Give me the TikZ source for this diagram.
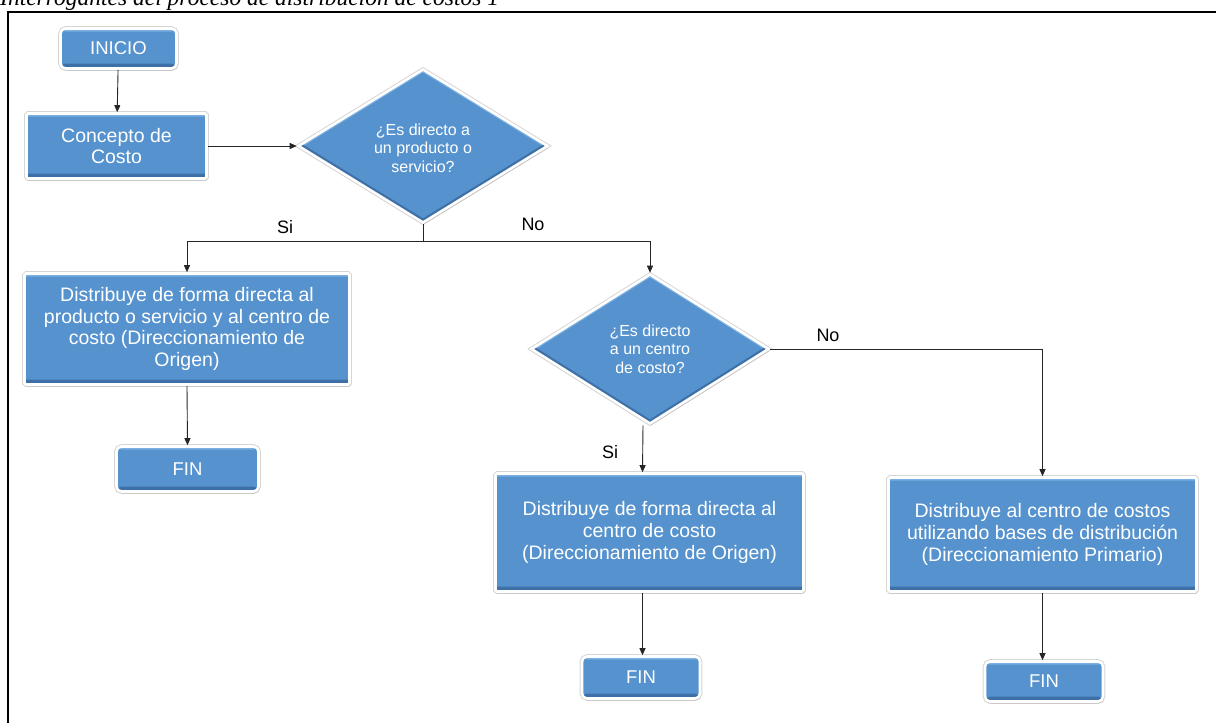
\documentclass[tikz,border=0pt]{standalone}
\usepackage{fontspec}
\setmainfont{Liberation Sans}
\newfontfamily\captionfont{Liberation Serif}
\usetikzlibrary{shapes.geometric,arrows.meta,shadows,calc}

\definecolor{boxblue}{RGB}{86,147,206}
\definecolor{boxdark}{RGB}{62,112,168}
\definecolor{boxlight}{RGB}{122,176,226}

\tikzset{
  x=1pt, y=-1pt,
  shapebase/.style={fill=boxblue, draw=white, line width=2.6pt,
    preaction={draw=black!16, line width=4.6pt},
    drop shadow={shadow xshift=1pt, shadow yshift=-2pt, opacity=0.22},
    text=white, align=center, inner sep=0pt},
  procbox/.style={shapebase, rectangle, rounded corners=1.5pt,
    path picture={
      \fill[boxdark] (path picture bounding box.south west) rectangle
        ([yshift=5pt]path picture bounding box.south east);
      \fill[boxlight] (path picture bounding box.north west) rectangle
        ([yshift=-3pt]path picture bounding box.north east);
    },
    font=\fontsize{19.5}{21.8}\selectfont},
  termbox/.style={procbox, rounded corners=5pt, font=\fontsize{18.5}{20}\selectfont},
  decision/.style={shapebase, diamond,
    path picture={
      \draw[boxlight, line width=5pt] (path picture bounding box.west) --
        (path picture bounding box.north) -- (path picture bounding box.east);
      \draw[boxdark, line width=7pt] (path picture bounding box.west) --
        (path picture bounding box.south) -- (path picture bounding box.east);
    }},
  decisiontext/.style={text=white, align=center, inner sep=0pt,
    font=\fontsize{16}{18.5}\selectfont},
  answer/.style={text=black, inner sep=0pt, font=\fontsize{18}{20}\selectfont},
  conn/.style={draw=black!85, line width=0.9pt},
  arr/.style={conn, -{Triangle[length=7pt,width=6pt]}},
}

\begin{document}
\begin{tikzpicture}
\useasboundingbox (0,0) rectangle (1216,723);
\clip (0,0) rectangle (1216,723);

% caption line and frame
\node[anchor=base west, inner sep=0pt,
      font=\captionfont\itshape\fontsize{23.5}{26}\selectfont] (caption) at (0,5)
  {Interrogantes del proceso de distribución de costos 1};
\draw[line width=2pt] (1240,12) -- (8,12) -- (8,760);

% start and first step
\node[termbox, minimum width=116, minimum height=40] (inicio) at (118.5,48.5) {INICIO};
\node[procbox, minimum width=180, minimum height=65] (concepto) at (116.5,146)
  {Concepto de\\Costo};

% first decision
\node[decision, minimum width=250, minimum height=154] (d1) at (423,146) {};
\node[decisiontext] (d1t) at (423,148) {¿Es directo a\\un producto o\\servicio?};

% left branch
\node[procbox, minimum width=325, minimum height=111] (b2) at (187,329)
  {Distribuye de forma directa al\\producto o servicio y al centro de\\costo (Direccionamiento de\\Origen)};
\node[termbox, minimum width=142, minimum height=45] (f1) at (187.5,469) {FIN};

% second decision
\node[decision, minimum width=238, minimum height=150] (d2) at (650,349) {};
\node[decisiontext] (d2t) at (650,349) {¿Es directo\\a un centro\\de costo?};

% middle branch
\node[procbox, minimum width=308, minimum height=118] (b3) at (649.5,532.5)
  {Distribuye de forma directa al\\centro de costo\\(Direccionamiento de Origen)};
\node[termbox, minimum width=118, minimum height=42] (f2) at (641,677.5) {FIN};

% right branch
\node[procbox, minimum width=308, minimum height=114] (b4) at (1042.5,534.5)
  {Distribuye al centro de costos\\utilizando bases de distribución\\(Direccionamiento Primario)};
\node[termbox, minimum width=118, minimum height=40] (f3) at (1044,681.5) {FIN};

% answer labels
\node[answer] (si1) at (285,227) {Si};
\node[answer] (no1) at (533,224) {No};
\node[answer] (si2) at (610,452) {Si};
\node[answer] (no2) at (828,335) {No};

% connectors
\coordinate (j1) at (423,241);
\draw[arr] (inicio) -- (concepto);
\draw[arr] (concepto.east) -- (d1.west);
\draw[conn] (d1.south) -- (j1);
\draw[arr] (j1) -| (b2.north);
\draw[arr] (j1) -| (d2.north);
\draw[arr] (b2.south) -- (f1.north);
\draw[arr] ([xshift=-7pt]d2.south) -- ([xshift=-7pt]b3.north);
\draw[arr] ([xshift=-7pt]b3.south) -- ([xshift=-7pt]b3.south |- f2.north);
\draw[arr] (d2.east) -| (b4.north);
\draw[arr] (b4.south) -- (b4.south |- f3.north);
\end{tikzpicture}
\end{document}
